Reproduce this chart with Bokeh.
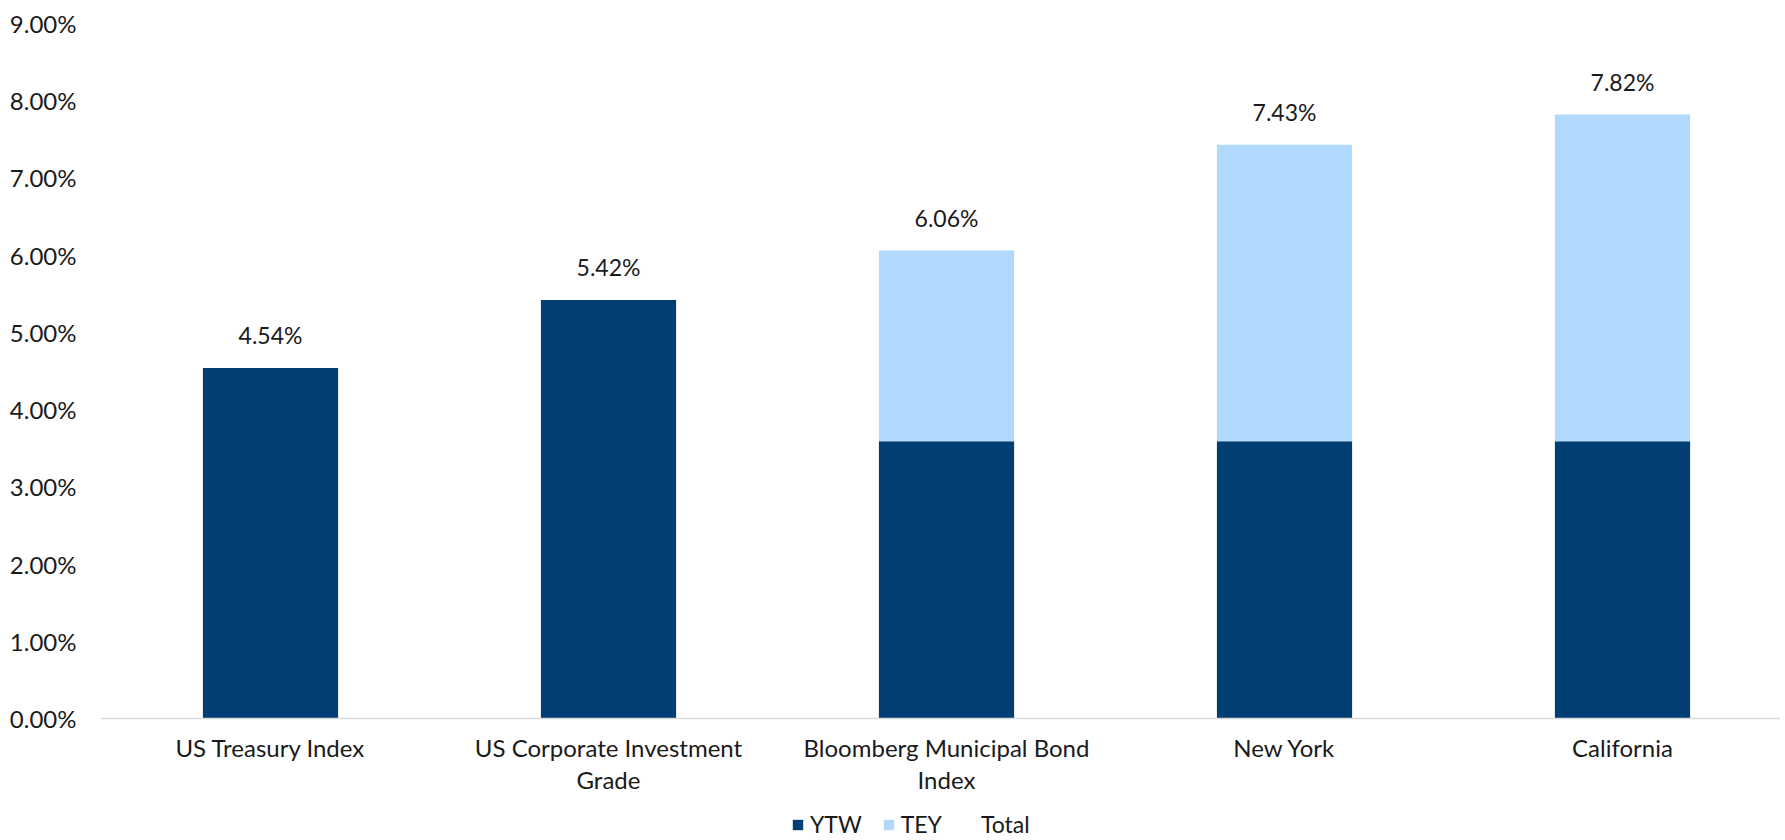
from bokeh.plotting import figure
from bokeh.layouts import column
from bokeh.models import (Range1d, FixedTicker, PrintfTickFormatter, Legend, LegendItem,
                          ColumnDataSource)
from bokeh.core.properties import value
from bokeh.embed import file_html
from bokeh.resources import INLINE

# ---- data ----
categories = ["US Treasury Index", "US Corporate Investment\nGrade",
              "Bloomberg Municipal Bond\nIndex", "New York", "California"]
ytw = [4.54, 5.42, 3.59, 3.59, 3.59]
tey = [0.0, 0.0, 2.47, 3.84, 4.23]
total = [4.54, 5.42, 6.06, 7.43, 7.82]
series_names = ["YTW", "TEY", "Total"]
y_ticks = [0, 1, 2, 3, 4, 5, 6, 7, 8, 9]

DARK = "#003E74"
LIGHT = "#B1D9FE"
TEXT = "#1a1a1a"
FONT = "Lato"
FS = "23px"
FSY = "24px"
FSX = "24px"

LEFT = 101
FRAME_W = 1679
CAT_W = 338
TOTAL_W = LEFT + FRAME_W

xs = [i + 0.5 for i in range(len(categories))]
src = ColumnDataSource(dict(
    x=xs, ytw=ytw, tey=tey, total=total,
    label=["{:.2f}%".format(t) for t in total],
))

p = figure(width=TOTAL_W, height=804, output_backend="svg",
           toolbar_location=None,
           x_range=Range1d(0, FRAME_W / CAT_W), y_range=Range1d(0, 9),
           min_border_left=LEFT, min_border_right=0, min_border_top=23,
           min_border_bottom=86)

rs = p.vbar_stack(["ytw", "tey"], x="x", width=0.4, color=[DARK, LIGHT],
                  line_color=None, source=src)

p.text(x="x", y="total", text="label", source=src, text_align="center",
       text_baseline="middle", y_offset=-33, text_font=value(FONT),
       text_font_size=value(FS), text_color=TEXT)

# axes
p.xaxis.ticker = FixedTicker(ticks=xs)
p.xaxis.major_label_overrides = {x: c for x, c in zip(xs, categories)}
p.xaxis.axis_line_color = "#d9d9d9"
p.xaxis.axis_line_width = 1.5
p.xaxis.major_tick_line_color = None
p.xaxis.minor_tick_line_color = None
p.xaxis.major_label_standoff = 8
p.xaxis.major_label_text_font = FONT
p.xaxis.major_label_text_font_size = FSX
p.xaxis.major_label_text_color = TEXT
p.xaxis.major_label_text_line_height = 1.13

p.yaxis.ticker = FixedTicker(ticks=y_ticks)
p.yaxis.formatter = PrintfTickFormatter(format="%.2f%%")
p.yaxis.axis_line_color = None
p.yaxis.major_tick_line_color = None
p.yaxis.minor_tick_line_color = None
p.yaxis.major_label_standoff = 19
p.yaxis.major_label_text_font = FONT
p.yaxis.major_label_text_font_size = FSY
p.yaxis.major_label_text_color = TEXT

p.xgrid.grid_line_color = None
p.ygrid.grid_line_color = None
p.outline_line_color = None

# ---- legend strip (its bars are hidden; only their legend swatches show) ----
lg = figure(width=TOTAL_W, height=34, output_backend="svg", toolbar_location=None,
            x_axis_type=None, y_axis_type=None, x_range=Range1d(0, 1),
            y_range=Range1d(0, 1), min_border=0)
lg.outline_line_color = None
lg.xgrid.grid_line_color = None
lg.ygrid.grid_line_color = None
r1 = lg.vbar(x="x", top="ytw", width=0.4, source=src, color=DARK,
             line_color=None, visible=False)
r2 = lg.vbar(x="x", top="tey", width=0.4, source=src, color=LIGHT,
             line_color=None, visible=False)
r3 = lg.vbar(x="x", top="total", width=0.4, source=src, fill_alpha=0,
             line_alpha=0, visible=False)

legend = Legend(items=[LegendItem(label=series_names[0], renderers=[r1]),
                       LegendItem(label=series_names[1], renderers=[r2]),
                       LegendItem(label=series_names[2], renderers=[r3])],
                orientation="horizontal", location=(690, 0),
                border_line_alpha=0, background_fill_alpha=0,
                inactive_fill_alpha=0,
                glyph_width=13, glyph_height=13, label_standoff=6, spacing=20,
                padding=0, margin=0, label_text_font=FONT,
                label_text_font_size=FS, label_text_color=TEXT)
lg.add_layout(legend, "center")

layout = column(p, lg, spacing=0)
open("out.html", "w").write(file_html(layout, INLINE))
